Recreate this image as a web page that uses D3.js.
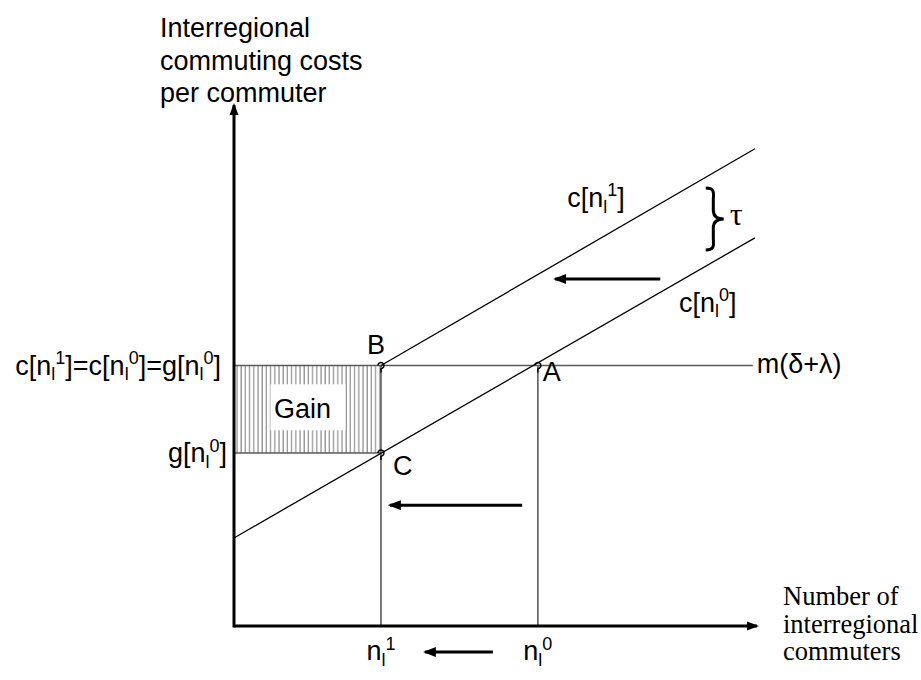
<!DOCTYPE html>
<html>
<head>
<meta charset="utf-8">
<script src="https://cdn.jsdelivr.net/npm/d3@7"></script>
<style>
  body { margin: 0; background: #fff; }
  svg text { font-family: "Liberation Sans", Arial, sans-serif; font-size: 27px; fill: #000; }
  svg text.serif { font-family: "Liberation Serif", "Times New Roman", serif; font-size: 26.5px; }
</style>
</head>
<body>
<svg id="chart" width="921" height="680"></svg>
<script>
// diagram values, in axis units (0..10 on both axes)
const yTitle = ["Interregional", "commuting costs", "per commuter"];
const xTitle = ["Number of", "interregional", "commuters"];

const xTickLabels = ["n_l^1", "n_l^0"];
const xTickValues = [2.81, 5.81];

const levelLabels = ["c[n_l^1]=c[n_l^0]=g[n_l^0]", "g[n_l^0]"];
const levelValues = [5.0, 3.32];

const pointNames = ["B", "C", "A"];
const pointX = [2.81, 2.81, 5.81];
const pointY = [5.0, 3.32, 5.0];

const curveLabels = ["c[n_l^0]", "c[n_l^1]"];
const curveX = [[0, 9.96], [2.81, 9.96]];
const curveY = [[1.69, 7.45], [5.0, 9.16]];

const mLabel = "m(δ+λ)";
const mEnd = 9.92;
const tauLabel = "τ";

const arrowFrom = [8.15, 5.51, 4.95];
const arrowTo = [6.14, 2.98, 3.65];
const arrowY = [6.66, 2.32, -0.5];

const gainLabel = "Gain";

// layout
const svg = d3.select("#chart");
const x = d3.scaleLinear().domain([0, 10]).range([234, 757]);
const y = d3.scaleLinear().domain([0, 10]).range([626, 105]);

// arrowheads
let defs = svg.append("defs");
defs.append("marker").attr("id", "axisHead")
    .attr("markerUnits", "userSpaceOnUse")
    .attr("markerWidth", 12).attr("markerHeight", 10)
    .attr("refX", 10).attr("refY", 5).attr("orient", "auto")
  .append("path").attr("d", "M0,0.5 L12,5 L0,9.5 Z").attr("fill", "#000");
defs.append("marker").attr("id", "shiftHead")
    .attr("markerUnits", "userSpaceOnUse")
    .attr("markerWidth", 13).attr("markerHeight", 10)
    .attr("refX", 11).attr("refY", 5).attr("orient", "auto")
  .append("path").attr("d", "M0,0 L13,5 L0,10 Z").attr("fill", "#000");
let hatch = defs.append("pattern").attr("id", "hatch")
    .attr("patternUnits", "userSpaceOnUse")
    .attr("x", x(0) + 2).attr("y", 0)
    .attr("width", 4.2).attr("height", 10);
hatch.append("line").attr("x1", 1).attr("x2", 1).attr("y1", 0).attr("y2", 10)
    .attr("stroke", "#8a8a8a").attr("stroke-width", 1.2);

// rich label helper: "_" sets next char as subscript, "^" as superscript
function richText(sel, str, size) {
    let subSize = Math.round(size * 0.65);
    let cur = 0;
    let i = 0;
    while (i < str.length) {
        let kind = "";
        if (str[i] === "_" || str[i] === "^") { kind = str[i]; i++; }
        let s = str[i];
        if (!kind) {
            while (i + 1 < str.length && str[i + 1] !== "_" && str[i + 1] !== "^") { i++; s += str[i]; }
        }
        let shift = kind === "_" ? size * 0.22 : kind === "^" ? -size * 0.38 : 0;
        sel.append("tspan")
            .attr("dy", shift - cur)
            .style("font-size", kind ? subSize + "px" : null)
            .text(s);
        cur = shift;
        i++;
    }
    return sel;
}

// gain area
let gx0 = x(0), gx1 = x(pointX[0]), gy0 = y(levelValues[0]), gy1 = y(levelValues[1]);
svg.append("rect")
    .attr("x", gx0).attr("y", gy0)
    .attr("width", gx1 - gx0).attr("height", gy1 - gy0)
    .attr("fill", "url(#hatch)");
let gcx = (gx0 + gx1) / 2, gcy = (gy0 + gy1) / 2;
svg.append("rect")
    .attr("x", gcx - 37).attr("y", gcy - 25)
    .attr("width", 75).attr("height", 46)
    .attr("fill", "#fff");
svg.append("text")
    .attr("x", gcx - 5).attr("y", gcy + 9)
    .attr("text-anchor", "middle")
    .text(gainLabel);

// guide lines
let guides = svg.append("g").attr("stroke", "#5a5a5a").attr("stroke-width", 1.6);
guides.append("line")
    .attr("x1", x(0)).attr("x2", x(mEnd))
    .attr("y1", y(levelValues[0])).attr("y2", y(levelValues[0]));
guides.append("line")
    .attr("x1", x(0)).attr("x2", x(pointX[1]))
    .attr("y1", y(levelValues[1])).attr("y2", y(levelValues[1]));
xTickValues.forEach(function(v) {
    guides.append("line")
        .attr("x1", x(v)).attr("x2", x(v))
        .attr("y1", y(0)).attr("y2", y(levelValues[0]));
});

// cost curves
svg.append("g").selectAll("line")
    .data(curveX)
    .enter().append("line")
    .attr("x1", function(d) { return x(d[0]); })
    .attr("x2", function(d) { return x(d[1]); })
    .attr("y1", function(d, i) { return y(curveY[i][0]); })
    .attr("y2", function(d, i) { return y(curveY[i][1]); })
    .attr("stroke", "#000").attr("stroke-width", 1.3);

// axes
svg.append("line")
    .attr("x1", x(0)).attr("x2", x(10))
    .attr("y1", y(0)).attr("y2", y(0))
    .attr("stroke", "#000").attr("stroke-width", 3)
    .attr("marker-end", "url(#axisHead)");
svg.append("line")
    .attr("x1", x(0)).attr("x2", x(0))
    .attr("y1", y(0) + 1.5).attr("y2", y(10))
    .attr("stroke", "#000").attr("stroke-width", 3)
    .attr("marker-end", "url(#axisHead)");

// shift arrows
svg.append("g").selectAll("line")
    .data(arrowFrom)
    .enter().append("line")
    .attr("x1", function(d) { return x(d); })
    .attr("x2", function(d, i) { return x(arrowTo[i]); })
    .attr("y1", function(d, i) { return y(arrowY[i]); })
    .attr("y2", function(d, i) { return y(arrowY[i]); })
    .attr("stroke", "#000").attr("stroke-width", 3)
    .attr("marker-end", "url(#shiftHead)");

// equilibrium points
let pts = svg.append("g").attr("fill", "none").attr("stroke", "#000").attr("stroke-width", 1.5);
pointNames.forEach(function(name, i) {
    let px = x(pointX[i]), py = y(pointY[i]);
    pts.append("path")
        .attr("d", `M${px - 3},${py} A3,3 0 1 1 ${px + 1.5},${py + 2.6} L${px},${py + 3.5} L${px},${py + 7}`);
});
let ptOffsets = [[-14, -12], [12, 22], [5, 15]];
pointNames.forEach(function(name, i) {
    svg.append("text")
        .attr("x", x(pointX[i]) + ptOffsets[i][0])
        .attr("y", y(pointY[i]) + ptOffsets[i][1])
        .text(name);
});

// axis titles
yTitle.forEach(function(s, i) {
    svg.append("text")
        .attr("x", x(0) - 74).attr("y", y(10) - 68 + i * 32.5)
        .text(s);
});
xTitle.forEach(function(s, i) {
    svg.append("text").attr("class", "serif")
        .attr("x", x(10) + 26).attr("y", y(0) - 21 + i * 27.5)
        .text(s);
});

// tick labels
xTickLabels.forEach(function(s, i) {
    richText(svg.append("text")
        .attr("x", x(xTickValues[i])).attr("y", y(0) + 34)
        .attr("text-anchor", "middle"), s, 27);
});
levelLabels.forEach(function(s, i) {
    richText(svg.append("text")
        .attr("x", x(0) - (i === 0 ? 13 : 7)).attr("y", y(levelValues[i]) + 9)
        .attr("text-anchor", "end"), s, 27);
});

// curve labels
let curveLabelAt = [[8.51, 30], [6.37, -51]];
curveLabels.forEach(function(s, i) {
    let cx = curveLabelAt[i][0];
    let t = (cx - curveX[i][0]) / (curveX[i][1] - curveX[i][0]);
    let cy = curveY[i][0] + t * (curveY[i][1] - curveY[i][0]);
    richText(svg.append("text")
        .attr("x", x(cx)).attr("y", y(cy) + curveLabelAt[i][1]), s, 27);
});

svg.append("text")
    .attr("x", x(mEnd) + 4).attr("y", y(levelValues[0]) + 7)
    .text(mLabel);

// tau brace between the two curves
let bx = x(9.02), bcy = 219, bh = 31, bw = 18;
svg.append("path")
    .attr("d", `M${bx},${bcy - bh} C${bx + bw * 0.55},${bcy - bh} ${bx + bw * 0.42},${bcy - bh + 6} ${bx + bw * 0.42},${bcy - bh + 12}
        L${bx + bw * 0.42},${bcy - 9} C${bx + bw * 0.42},${bcy - 2} ${bx + bw * 0.7},${bcy} ${bx + bw},${bcy}
        C${bx + bw * 0.7},${bcy} ${bx + bw * 0.42},${bcy + 2} ${bx + bw * 0.42},${bcy + 9}
        L${bx + bw * 0.42},${bcy + bh - 12} C${bx + bw * 0.42},${bcy + bh - 6} ${bx + bw * 0.55},${bcy + bh} ${bx},${bcy + bh}`)
    .attr("fill", "none").attr("stroke", "#000").attr("stroke-width", 3);
svg.append("text").attr("class", "serif")
    .attr("x", bx + bw + 6).attr("y", bcy + 6)
    .style("font-size", "32px")
    .text(tauLabel);
</script>
</body>
</html>
